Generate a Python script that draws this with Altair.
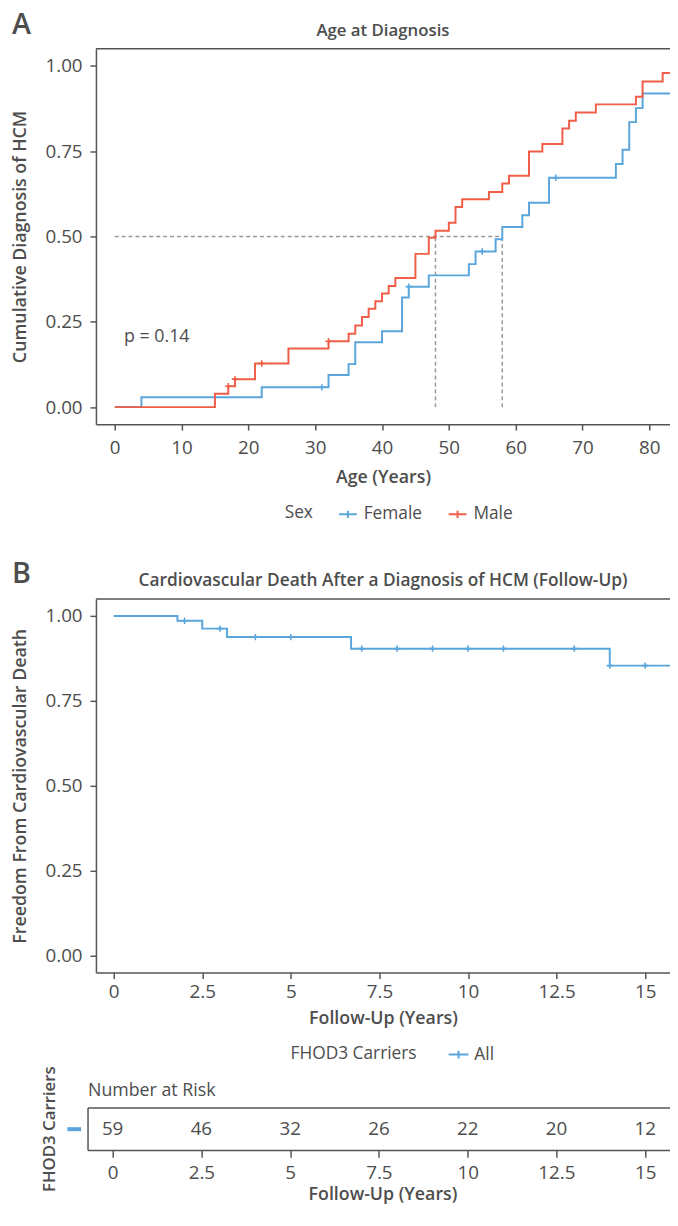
import altair as alt
import pandas as pd

FONT = "Open Sans"
TXT = "#4d4d4d"
AXC = "#555555"
BLUE = "#5AA6DC"
RED = "#F05E48"
DASH = "#9a9a9a"
CROSS = "M-1,0H1M0,-1V1"
LEG_SYM = "M-1,0H1M0,-0.4V0.4"

# ---------------- Panel A: age at diagnosis (cumulative incidence) ----------------
female_age = [0, 4, 22, 32, 35, 36, 40, 43, 44, 47, 53, 54, 57, 58, 61, 62, 65, 75, 76, 77, 78, 79]
female_cum = [0.0, 0.029, 0.058, 0.094, 0.126, 0.190, 0.222, 0.321, 0.353, 0.386, 0.419, 0.456,
              0.492, 0.528, 0.562, 0.599, 0.672, 0.712, 0.754, 0.835, 0.876, 0.919]
female_cens_age = [31, 44, 55, 66]
female_cens_cum = [0.058, 0.353, 0.456, 0.672]

male_age = [0, 15, 17, 18, 21, 26, 32, 35, 36, 37, 38, 39, 40, 41, 42, 45, 47, 48, 50, 51, 52,
            56, 58, 59, 62, 64, 67, 68, 69, 72, 78, 79, 82]
male_cum = [0.0, 0.039, 0.061, 0.082, 0.128, 0.172, 0.193, 0.215, 0.239, 0.264, 0.288, 0.310,
            0.333, 0.355, 0.378, 0.449, 0.496, 0.517, 0.540, 0.586, 0.609, 0.630, 0.655, 0.678,
            0.749, 0.771, 0.816, 0.839, 0.863, 0.887, 0.909, 0.954, 0.979]
male_cens_age = [17, 18, 22, 32]
male_cens_cum = [0.061, 0.082, 0.128, 0.193]

median_female = 58
median_male = 48
p_label = "p = 0.14"

# ---------------- Panel B: freedom from CV death ----------------
fu_time = [0, 1.8, 2.5, 3.2, 6.7, 14.0]
fu_surv = [1.0, 0.986, 0.963, 0.938, 0.904, 0.854]
fu_cens_time = [2, 3, 4, 5, 7, 8, 9, 10, 11, 13, 14, 15]
fu_cens_surv = [0.986, 0.963, 0.938, 0.938, 0.904, 0.904, 0.904, 0.904, 0.904, 0.904, 0.854, 0.854]

risk_time = [0, 2.5, 5, 7.5, 10, 12.5, 15]
risk_n = [59, 46, 32, 26, 22, 20, 12]

# ---------------- layout constants ----------------
W = 581
HA = 380
HB = 378
HR = 43
A_X = [-2.81, 83.1]
B_X = [-0.50, 15.70]
R_X = [-0.47, 15.70]
Y_DOM = [-0.05, 1.05]
NUM_LABEL = "'' + datum.value"


def one(text=""):
    return pd.DataFrame({"t": [text]})


def txt(text, x, y, size, weight="normal", align="left", baseline="middle", angle=None):
    kw = dict(font=FONT, fontSize=size, fontWeight=weight, color=TXT, align=align, baseline=baseline)
    if angle is not None:
        kw["angle"] = angle
    return alt.Chart(one(text)).mark_text(**kw).encode(text="t:N", x=alt.value(x), y=alt.value(y))


def hrule(x1, x2, y, color=AXC, width=1.5, opacity=1.0):
    return alt.Chart(one()).mark_rule(color=color, strokeWidth=width, opacity=opacity).encode(
        x=alt.value(x1), x2=alt.value(x2), y=alt.value(y))


def vrule(x, y1, y2, color=AXC, width=1.5):
    return alt.Chart(one()).mark_rule(color=color, strokeWidth=width).encode(
        x=alt.value(x), y=alt.value(y1), y2=alt.value(y2))


def invisible(y):
    return hrule(0, 5, y, color="white", width=0.1, opacity=0)


# ---- Panel A ----
rowsA = []
for a, c in zip(female_age, female_cum):
    rowsA.append({"age": a, "cum": c, "sex": "Female"})
rowsA.append({"age": A_X[1], "cum": female_cum[-1], "sex": "Female"})
for a, c in zip(male_age, male_cum):
    rowsA.append({"age": a, "cum": c, "sex": "Male"})
rowsA.append({"age": A_X[1], "cum": male_cum[-1], "sex": "Male"})
dfA = pd.DataFrame(rowsA)

censA = pd.DataFrame(
    [{"age": a, "cum": c, "sex": "Female"} for a, c in zip(female_cens_age, female_cens_cum)]
    + [{"age": a, "cum": c, "sex": "Male"} for a, c in zip(male_cens_age, male_cens_cum)]
)

medA = pd.DataFrame({
    "x": [0, median_male, median_female],
    "x2": [median_female, median_male, median_female],
    "y": [0.5, 0.0, 0.0],
    "y2": [0.5, 0.5, 0.5],
})

scaleAx = alt.Scale(domain=A_X, nice=False, zero=False)
scaleY = alt.Scale(domain=Y_DOM, nice=False, zero=False)

axisAx = alt.Axis(values=list(range(0, 81, 10)), format="d", title="Age (Years)",
                  tickSize=6, labelPadding=9, titleY=54, titleBaseline="middle")
axisAy = alt.Axis(values=[0, 0.25, 0.5, 0.75, 1.0], format=".2f", title="Cumulative Diagnosis of HCM",
                  tickSize=6, labelPadding=8, titleX=-76, titleY=HA / 2, titleAngle=270,
                  titleAlign="center", titleBaseline="middle")

colorA = alt.Color("sex:N", scale=alt.Scale(domain=["Female", "Male"], range=[BLUE, RED]),
                   legend=alt.Legend(orient="none", legendX=191, legendY=461, direction="horizontal",
                                     title="Sex", titleOrient="left", titlePadding=25,
                                     symbolType=LEG_SYM, symbolSize=324, symbolStrokeWidth=2,
                                     labelOffset=6, columnPadding=22))

medLayer = alt.Chart(medA).mark_rule(color=DASH, strokeWidth=1.5, strokeDash=[4, 3]).encode(
    x=alt.X("x:Q", scale=scaleAx, axis=axisAx), x2="x2:Q",
    y=alt.Y("y:Q", scale=scaleY, axis=axisAy), y2="y2:Q")
lineA = alt.Chart(dfA).mark_line(interpolate="step-after", strokeWidth=2).encode(
    x=alt.X("age:Q", scale=scaleAx, axis=axisAx),
    y=alt.Y("cum:Q", scale=scaleY, axis=axisAy),
    color=colorA)
pointA = alt.Chart(censA).mark_point(shape=CROSS, filled=False, size=42, strokeWidth=1.6, opacity=1).encode(
    x=alt.X("age:Q", scale=scaleAx, axis=axisAx),
    y=alt.Y("cum:Q", scale=scaleY, axis=axisAy),
    color=colorA)
pText = alt.Chart(pd.DataFrame({"t": [p_label], "x": [1.4], "y": [0.205]})).mark_text(
    font=FONT, fontSize=18, color=TXT, align="left", baseline="middle").encode(
    x=alt.X("x:Q", scale=scaleAx, axis=axisAx), y=alt.Y("y:Q", scale=scaleY, axis=axisAy), text="t:N")

panelA = alt.layer(
    invisible(-39), invisible(517),
    medLayer, lineA, pointA, pText,
    hrule(0, W, 0),
    txt("A", -85, -38, 29, weight=600, baseline="top"),
    txt("Age at Diagnosis", W / 2, -18, 17, weight=600, align="center"),
).properties(width=W, height=HA)

# ---- Panel B ----
rowsB = [{"t": t, "s": s, "g": "All"} for t, s in zip(fu_time, fu_surv)]
rowsB.append({"t": B_X[1], "s": fu_surv[-1], "g": "All"})
dfB = pd.DataFrame(rowsB)
censB = pd.DataFrame({"t": fu_cens_time, "s": fu_cens_surv, "g": ["All"] * len(fu_cens_time)})

scaleBx = alt.Scale(domain=B_X, nice=False, zero=False)
axisBx = alt.Axis(values=risk_time, labelExpr=NUM_LABEL, title="Follow-Up (Years)",
                  tickSize=6, labelPadding=4, titleY=47, titleBaseline="middle")
axisBy = alt.Axis(values=[0, 0.25, 0.5, 0.75, 1.0], format=".2f", title="Freedom From Cardiovascular Death",
                  tickSize=6, labelPadding=8, titleX=-76, titleY=HB / 2, titleAngle=270,
                  titleAlign="center", titleBaseline="middle")
colorB = alt.Color("g:N", scale=alt.Scale(domain=["All"], range=[BLUE]),
                   legend=alt.Legend(orient="none", legendX=197, legendY=450, direction="horizontal",
                                     title="FHOD3 Carriers", titleOrient="left", titlePadding=31,
                                     symbolType=LEG_SYM, symbolSize=400, symbolStrokeWidth=2,
                                     labelOffset=5))

lineB = alt.Chart(dfB).mark_line(interpolate="step-after", strokeWidth=2).encode(
    x=alt.X("t:Q", scale=scaleBx, axis=axisBx),
    y=alt.Y("s:Q", scale=scaleY, axis=axisBy),
    color=colorB)
pointB = alt.Chart(censB).mark_point(shape=CROSS, filled=False, size=42, strokeWidth=1.6, opacity=1).encode(
    x=alt.X("t:Q", scale=scaleBx, axis=axisBx),
    y=alt.Y("s:Q", scale=scaleY, axis=axisBy),
    color=colorB)

panelB = alt.layer(
    invisible(-40), invisible(467.5),
    lineB, pointB,
    hrule(0, W, 0),
    txt("B", -85, -39, 29, weight=600, baseline="top"),
    txt("Cardiovascular Death After a Diagnosis of HCM (Follow-Up)", W / 2, -18, 17.5, weight=600, align="center"),
).properties(width=W, height=HB)

# ---- Risk table ----
dfR = pd.DataFrame({"t": risk_time, "n": risk_n})
scaleRx = alt.Scale(domain=R_X, nice=False, zero=False)
axisRx = alt.Axis(values=risk_time, labelExpr=NUM_LABEL, title=None, domain=False,
                  tickSize=7, labelPadding=6)
riskText = alt.Chart(dfR).mark_text(font=FONT, fontSize=19, color=TXT, baseline="middle").encode(
    x=alt.X("t:Q", scale=scaleRx, axis=axisRx), y=alt.value(HR / 2), text="n:Q")

panelR = alt.layer(
    invisible(-44.5),
    hrule(-8, W, 0), hrule(-8, W, HR), vrule(-8, 0, HR),
    riskText,
    alt.Chart(one()).mark_rect(color=BLUE).encode(
        x=alt.value(-29), x2=alt.value(-15), y=alt.value(HR / 2 - 2), y2=alt.value(HR / 2 + 2)),
    txt("Number at Risk", -8, -17, 18),
    txt("FHOD3 Carriers", -46, HR / 2, 17, weight=600, align="center", angle=270),
    txt("Follow-Up (Years)", W / 2, 97.5, 18, weight=600, align="center", baseline="bottom"),
).properties(width=W, height=HR)

chart = alt.vconcat(panelA, panelB, panelR, spacing=0).resolve_scale(
    color="independent", x="independent"
).resolve_legend(color="independent").properties(
    padding={"left": 3, "top": -5, "right": -4, "bottom": -8},
    background="white",
).configure_view(stroke=None).configure_axis(
    labelFont=FONT, titleFont=FONT, labelColor=TXT, titleColor=TXT,
    labelFontSize=19, titleFontSize=18, titleFontWeight=600,
    domainColor=AXC, tickColor=AXC, domainWidth=1.5, tickWidth=1.5, grid=False,
).configure_legend(
    labelFont=FONT, titleFont=FONT, labelColor=TXT, titleColor=TXT,
    labelFontSize=17.5, titleFontSize=17.5, titleFontWeight="normal",
)

chart.save("out.html", embed_options={"renderer": "svg", "actions": False})
